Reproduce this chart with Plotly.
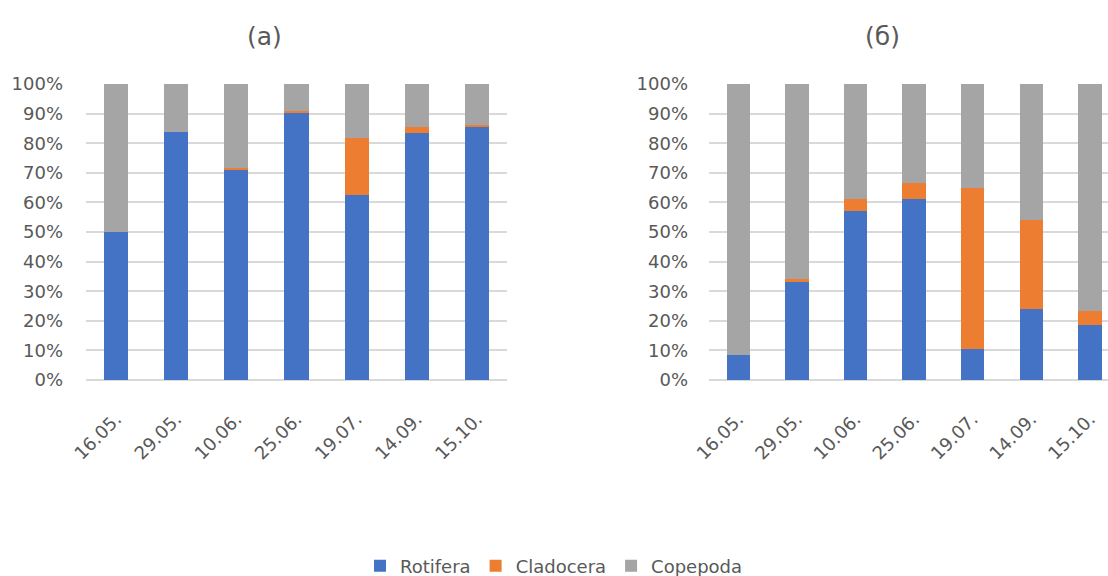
import plotly.graph_objects as go

# Sampling dates
dates = ["16.05.", "29.05.", "10.06.", "25.06.", "19.07.", "14.09.", "15.10."]

# Share of each group in zooplankton abundance, %  — site (а)
rotifera_a = [50.0, 83.7, 71.1, 90.1, 62.4, 83.6, 85.7]
cladocera_a = [0.0, 0.0, 0.4, 0.9, 19.5, 1.8, 0.4]
copepoda_a = [50.0, 16.3, 28.5, 9.0, 18.1, 14.6, 13.9]

# Share of each group in zooplankton abundance, %  — site (б)
rotifera_b = [8.6, 33.2, 57.1, 61.0, 10.4, 24.1, 18.5]
cladocera_b = [0.0, 0.9, 4.0, 5.6, 54.6, 30.0, 4.8]
copepoda_b = [91.4, 65.9, 38.9, 33.4, 35.0, 45.9, 76.7]

y_ticks = [0, 10, 20, 30, 40, 50, 60, 70, 80, 90, 100]
y_tick_labels = [f"{v}%" for v in y_ticks]

colors = {"Rotifera": "#4472C4", "Cladocera": "#ED7D31", "Copepoda": "#A5A5A5"}
FONT = "DejaVu Sans"
TEXT = "#595959"

fig = go.Figure()

panels = [
    ("x", "y", {"Rotifera": rotifera_a, "Cladocera": cladocera_a, "Copepoda": copepoda_a}, True),
    ("x2", "y2", {"Rotifera": rotifera_b, "Cladocera": cladocera_b, "Copepoda": copepoda_b}, False),
]
for xa, ya, series, show in panels:
    for name, vals in series.items():
        fig.add_trace(go.Bar(
            x=dates, y=vals, name=name, xaxis=xa, yaxis=ya,
            marker=dict(color=colors[name], line=dict(width=0)),
            showlegend=show, legendgroup=name,
        ))

W, H = 1108, 576
y_dom = [(H - 380) / H, (H - 84) / H]

axis_common = dict(
    tickfont=dict(family=FONT, size=18, color=TEXT),
    showline=False,
    automargin=False,
)
grid = dict(gridcolor="#D9D9D9", gridwidth=1.5, zeroline=True,
            zerolinecolor="#D9D9D9", zerolinewidth=1.5)
fig.update_layout(
    width=W, height=H,
    margin=dict(l=0, r=0, t=0, b=0, autoexpand=False),
    paper_bgcolor="white", plot_bgcolor="white",
    barmode="stack", bargap=0.6,
    font=dict(family=FONT, color=TEXT),
    xaxis=dict(domain=[86 / W, 507 / W], range=[-0.5, 6.5], tickangle=-45,
               showgrid=False, ticks="", ticklabelstandoff=24, anchor="y", **axis_common),
    xaxis2=dict(domain=[709 / W, 1.0], range=[-0.5, 6.31], tickangle=-45,
                showgrid=False, ticks="", ticklabelstandoff=24, anchor="y2", **axis_common),
    yaxis=dict(domain=y_dom, range=[0, 100], tickvals=y_ticks, ticktext=y_tick_labels,
               anchor="x", ticklabelstandoff=22, **grid, **axis_common),
    yaxis2=dict(domain=y_dom, range=[0, 100], tickvals=y_ticks, ticktext=y_tick_labels,
                anchor="x2", ticklabelstandoff=20, **grid, **axis_common),
    legend=dict(orientation="h", x=0.5, xanchor="center", y=1 - 566 / H, yanchor="middle",
                font=dict(family=FONT, size=18, color=TEXT), traceorder="normal"),
    annotations=[
        dict(text="(а)", x=264 / W, y=1 - 36 / H, xref="paper", yref="paper",
             xanchor="center", yanchor="middle",
             showarrow=False, font=dict(family=FONT, size=25, color=TEXT)),
        dict(text="(б)", x=882 / W, y=1 - 36 / H, xref="paper", yref="paper",
             xanchor="center", yanchor="middle",
             showarrow=False, font=dict(family=FONT, size=25, color=TEXT)),
    ],
)

fig.write_html("out.html")
